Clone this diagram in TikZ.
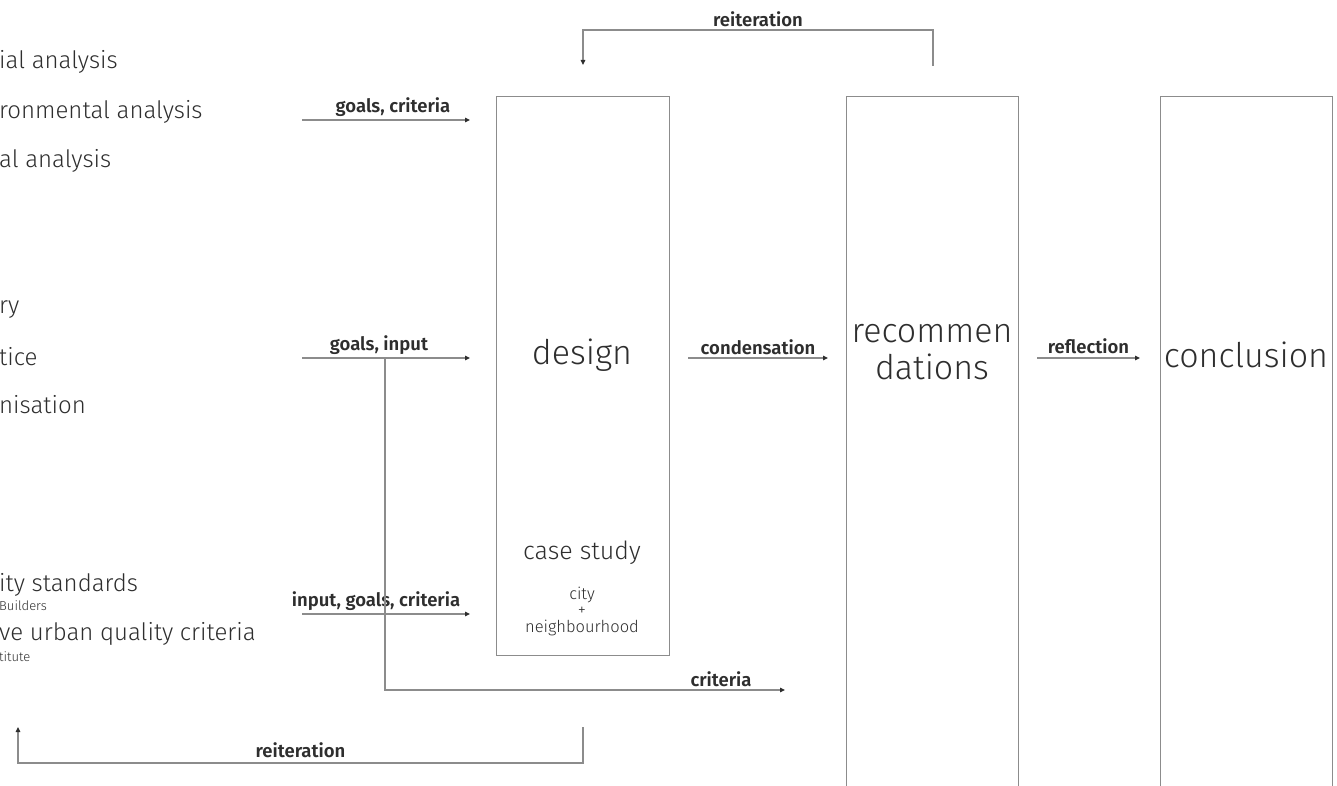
\documentclass[tikz,border=0pt]{standalone}
\usepackage{fontspec}
\setmainfont{Fira Sans Light}[BoldFont={Fira Sans SemiBold}]
\usetikzlibrary{arrows.meta}
\definecolor{linegrey}{HTML}{8C8C8C}
\definecolor{inkgrey}{HTML}{2E2E2E}
\tikzset{
 stage/.style={draw=linegrey, line width=1.2pt, inner sep=0pt},
 flow/.style={draw=linegrey, line width=1.2pt,
   -{Triangle[length=5pt,width=4.5pt,color=inkgrey]}},
 flowlabel/.style={font=\bfseries\fontsize{18.5}{20}\selectfont, text=inkgrey, inner sep=3pt},
 bigword/.style={font=\fontsize{34}{37}\selectfont, text=inkgrey, align=center},
 caseword/.style={font=\fontsize{16.5}{17}\selectfont, text=inkgrey, inner sep=0pt},
 listword/.style={anchor=west, font=\fontsize{24}{26}\selectfont, text=inkgrey, inner sep=0pt},
 tinyword/.style={anchor=west, font=\fontsize{13}{14}\selectfont, text=inkgrey, inner sep=0pt},
 }

\begin{document}
\begin{tikzpicture}[x=1pt, y=-1pt]
    \useasboundingbox (0,0) rectangle (1337,786);
    \clip (0,0) rectangle (1337,786);
    % left hand lists
    \node[listword] (l1) at (-1, 62) {ial analysis};
    \node[listword] (l2) at (-1, 112) {ronmental analysis};
    \node[listword] (l3) at (-1, 161) {al analysis};
    \node[listword] (l4) at (-1, 310) {ry};
    \node[listword] (l5) at (-1, 357) {tice};
    \node[listword] (l6) at (-1, 405) {nisation};
    \node[listword] (l7) at (-1, 585) {ity standards};
    \node[tinyword] (l7s) at (-1, 606) {Builders};
    \node[listword] (l8) at (-1, 634) {ve urban quality criteria};
    \node[tinyword] (l8s) at (-1, 657) {titute};
    % stages
    \node[stage, anchor=north west, minimum width=173, minimum height=559] (design) at (496, 96) {};
    \node[stage, anchor=north west, minimum width=172, minimum height=760] (recom) at (846, 96) {};
    \node[stage, anchor=north west, minimum width=172, minimum height=760] (concl) at (1160, 96) {};
    \node[bigword] (designtxt) at (582, 355) {design};
    \node[bigword, font=\fontsize{25}{28}\selectfont] (casetxt) at (582, 553) {case study};
    \node[caseword] (citytxt) at (582, 595) {city};
    \node[caseword] (plustxt) at (582, 611) {+};
    \node[caseword] (neightxt) at (582, 628) {neighbourhood};
    \node[bigword] (recomtxt) at (932, 352) {recommen\\dations};
    \node[bigword] (concltxt) at (1246, 355) {conclusion};
    % inputs into design
    \foreach \y/\lab/\name/\dx in {120/{goals, criteria}/top/7, 358/{goals, input}/mid/-7, 614/{input, goals, criteria}/low/-10}
    {
        \coordinate (\name-from) at (302, \y);
        \coordinate (\name-to) at (470, \y);
        \draw[flow] (\name-from) -- node[flowlabel, above, xshift=\dx] {\lab} (\name-to);
    }
    \coordinate (split) at (385, 358);
    \coordinate (crit-to) at (785, 690);
    \draw[flow] (split) |- node[flowlabel, above, pos=0.92] {criteria} (crit-to);
    % between stages
    \coordinate (cond-from) at (688, 358);
    \coordinate (cond-to) at (828, 358);
    \draw[flow] (cond-from) -- node[flowlabel, above] {condensation} (cond-to);
    \coordinate (refl-from) at (1037, 358);
    \coordinate (refl-to) at (1140, 358);
    \draw[flow] (refl-from) -- node[flowlabel, above, inner sep=4pt] {reflection} (refl-to);
    % feedback loops
    \coordinate (re1-from) at (933, 66);
    \coordinate (re1-to) at (583, 65);
    \draw[flow] (re1-from) -- (933, 30) -- node[flowlabel, above, inner sep=3pt] {reiteration} (583, 30) -- (re1-to);
    \coordinate (re2-from) at (583, 727);
    \coordinate (re2-to) at (18, 727);
    \draw[flow] (re2-from) -- (583, 763) -- node[flowlabel, above, inner sep=5pt] {reiteration} (18, 763) -- (re2-to);
\end{tikzpicture}
\end{document}
